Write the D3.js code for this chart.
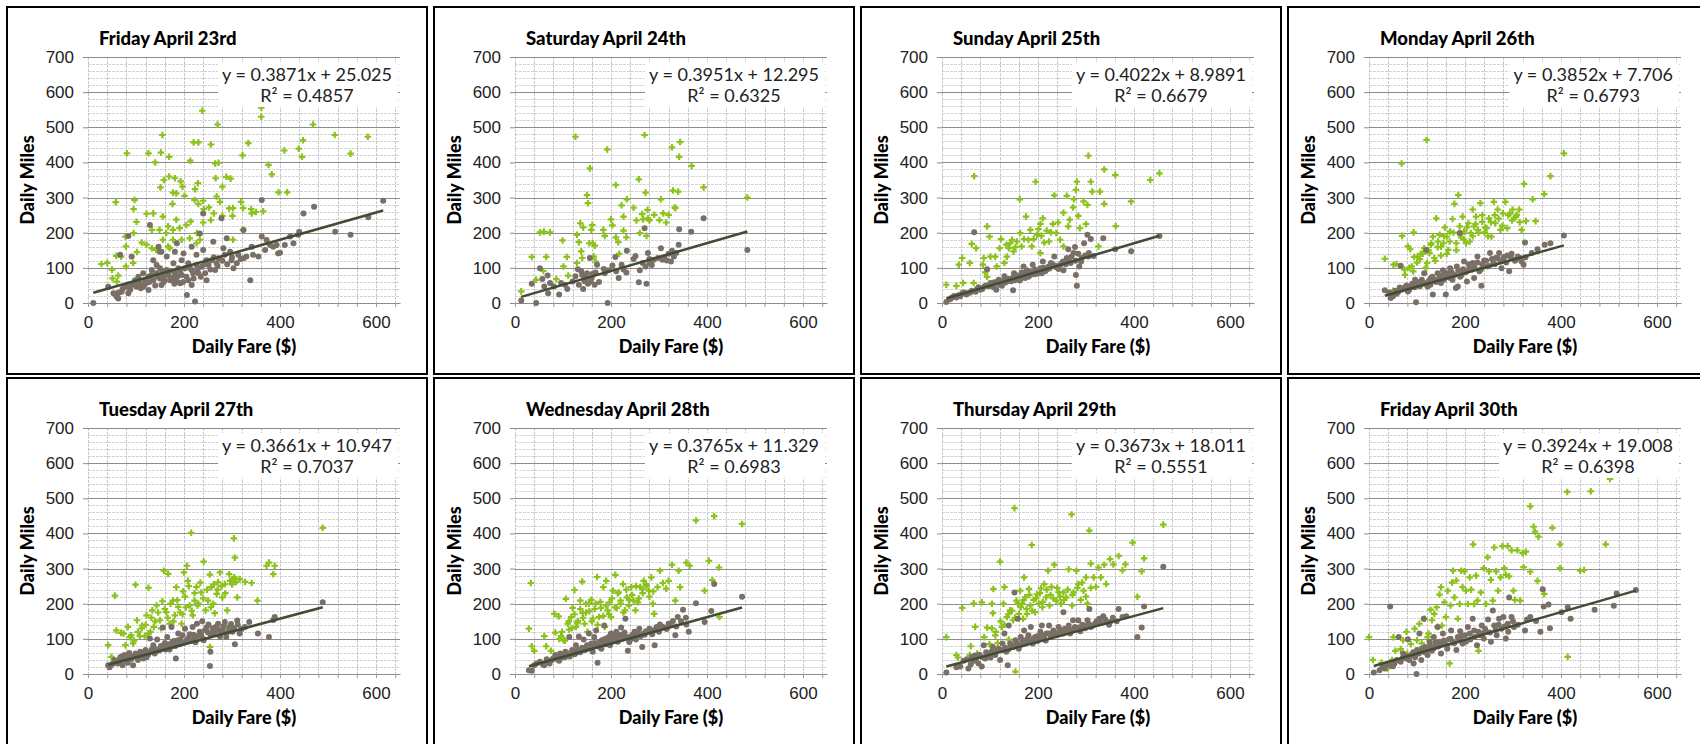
<!DOCTYPE html>
<html>
<head>
<meta charset="utf-8">
<script src="https://cdn.jsdelivr.net/npm/d3@7"></script>
<style>
  body { margin: 0; background: #fff; }
  svg { display: block; font-family: "Century Gothic", Lato, sans-serif; }
</style>
</head>
<body>
<script>
// chart titles and the trendline equations printed on each panel
const titles = ["Friday April 23rd", "Saturday April 24th", "Sunday April 25th", "Monday April 26th",
                "Tuesday April 27th", "Wednesday April 28th", "Thursday April 29th", "Friday April 30th"];
const slopes = [0.3871, 0.3951, 0.4022, 0.3852, 0.3661, 0.3765, 0.3673, 0.3924];
const intercepts = [25.025, 12.295, 8.9891, 7.706, 10.947, 11.329, 18.011, 19.008];
const rSquared = ["0.4857", "0.6325", "0.6679", "0.6793", "0.7037", "0.6983", "0.5551", "0.6398"];
const xTickLabels = [0, 200, 400, 600];
const yTickLabels = [0, 100, 200, 300, 400, 500, 600, 700];

// [daily fare, daily miles]
const fri23Green = [[28,111],[40,114],[58,287],[81,426],[126,426],[152,428],[140,400],[155,478],[169,416],[238,547],[213,405],[220,457],[230,457],[256,451],[265,397],[272,399],[270,508],[361,530],[361,556],[334,455],[322,420],[376,393],[383,366],[397,315],[415,315],[409,434],[439,439],[446,416],[448,463],[469,508],[514,478],[547,425],[583,473],
  [151,329],[158,350],[169,360],[181,355],[193,346],[177,314],[184,312],[176,282],[201,305],[197,331],[223,324],[240,291],[268,303],[288,359],[297,354],[280,331],[266,355],[230,282],[241,267],[262,255],[275,288],[294,269],[302,270],[319,288],[323,270],[340,267],[350,259],[365,261],[301,248],[280,248],[256,236],[240,229],[214,232],[205,222],[191,213],[177,208],[163,199],[149,208],[133,208],[122,254],[136,255],[156,246],[167,218],[184,237],[101,231],[95,199],[79,161],[69,132],[59,134],[50,95],[51,70],[63,78],[79,104],[94,114],[102,145],[112,172],[122,166],[133,156],[142,151],[156,180],[167,161],[177,180],[195,180],[212,184],[226,170],[60,61],[78,189],[95,267],[97,293],[229,341],[222,293],[252,272],[302,180],[323,208],[341,255],[227,199],[233,180],[139,76],[170,156]];
const fri23Grey = [[11,0],[42,46],[58,23],[61,28],[67,137],[84,191],[91,132],[77,46],[98,65],[108,57],[115,85],[129,222],[133,94],[143,108],[147,160],[153,146],[157,75],[164,94],[171,65],[178,113],[185,170],[192,56],[199,141],[206,23],[219,85],[223,4],[226,108],[233,198],[240,255],[247,122],[261,174],[268,113],[278,241],[282,156],[289,184],[299,122],[303,99],[324,127],[324,208],[338,65],[341,160],[362,293],[362,189],[369,151],[386,160],[396,141],[410,165],[421,189],[440,203],[449,255],[471,274],[515,203],[547,194],[584,244],[615,291],
  [53,28],[70,32],[81,46],[91,51],[101,46],[105,75],[119,65],[126,75],[136,65],[143,85],[150,70],[150,99],[160,65],[167,80],[174,65],[181,85],[188,99],[195,80],[202,99],[209,113],[216,94],[230,85],[237,103],[244,85],[251,108],[258,122],[265,94],[272,127],[285,137],[296,146],[310,113],[313,137],[330,132],[344,137],[355,132],[372,179],[379,165],[393,165],[400,143],[428,170],[438,194],[136,122],[150,146],[164,132],[181,146],[195,122],[216,160],[226,137],[240,151],[126,37],[115,46],[63,13],[60,18],[84,28],[153,51],[185,61],[209,65],[216,51],[247,65],
  [65,30],[72,40],[88,38],[95,55],[104,60],[110,42],[120,55],[128,60],[132,80],[140,50],[146,75],[155,90],[158,60],[170,90],[176,72],[180,55],[186,75],[192,90],[198,60],[205,75],[212,100],[220,70],[228,95],[235,75],[242,110],[255,95],[262,130],[270,105],[280,120],[290,110],[300,130],[318,125]];

const sat24Green = [[13,33],[35,131],[44,66],[52,201],[60,203],[65,131],[73,201],[59,91],[86,68],[99,178],[108,131],[111,78],[101,104],[126,473],[129,194],[129,114],[133,173],[136,227],[142,215],[138,147],[140,128],[150,307],[152,284],[156,383],[159,208],[161,222],[155,170],[162,170],[164,132],[168,118],[166,163],[184,208],[187,191],[192,437],[200,238],[203,221],[210,336],[210,187],[215,173],[217,140],[222,278],[226,246],[226,206],[232,187],[233,295],[247,271],[253,235],[258,352],[260,199],[265,253],[267,238],[270,478],[272,314],[276,265],[277,241],[274,191],[280,235],[290,251],[301,236],[304,295],[309,255],[315,229],[320,251],[327,443],[329,320],[333,272],[340,317],[342,416],[344,458],[334,270],[368,390],[393,329],[484,300]];
const sat24Grey = [[13,7],[35,55],[44,0],[52,99],[57,68],[61,47],[68,78],[73,57],[69,28],[81,47],[92,24],[96,57],[104,52],[109,40],[120,61],[126,76],[131,96],[133,52],[138,90],[142,40],[148,71],[152,55],[156,128],[158,61],[162,83],[166,52],[168,87],[171,109],[185,97],[187,85],[193,0],[195,93],[203,107],[209,131],[211,90],[216,71],[222,109],[226,95],[232,87],[233,149],[247,125],[251,134],[258,59],[260,93],[266,114],[270,213],[272,104],[274,55],[277,142],[280,114],[289,123],[298,128],[304,156],[307,123],[311,131],[316,121],[327,149],[331,132],[336,142],[341,166],[342,210],[367,203],[393,241],[484,151],
  [140,80],[145,62],[150,85],[160,72],[175,60],[280,125],[285,108],[320,140],[325,118]];

const sun25Green = [[9,52],[30,49],[35,109],[42,128],[44,57],[58,114],[62,168],[67,361],[71,156],[66,57],[85,109],[87,128],[94,218],[90,87],[94,74],[99,189],[101,132],[111,132],[114,104],[120,156],[123,182],[130,114],[134,166],[135,132],[139,156],[142,170],[146,180],[149,147],[153,159],[156,175],[162,295],[163,199],[166,161],[171,182],[175,246],[180,180],[184,208],[187,161],[191,182],[195,345],[198,194],[201,210],[205,225],[207,191],[210,241],[213,172],[218,206],[223,175],[227,201],[231,225],[234,306],[238,199],[242,229],[246,180],[253,257],[260,305],[263,218],[266,237],[273,272],[275,295],[279,322],[281,345],[284,248],[287,213],[295,289],[300,225],[303,279],[305,419],[310,345],[313,317],[326,161],[329,317],[338,282],[338,380],[361,364],[362,219],[394,289],[434,350],[453,369],[205,142],[253,161]];
const sun25Grey = [[9,3],[17,11],[30,16],[38,19],[42,28],[51,24],[59,30],[67,201],[73,40],[80,38],[88,47],[94,96],[101,57],[109,59],[113,38],[118,66],[125,49],[130,76],[135,61],[142,68],[148,36],[150,85],[156,74],[162,64],[166,87],[170,104],[173,71],[177,93],[184,80],[189,109],[194,95],[199,83],[205,99],[210,118],[215,90],[222,104],[227,114],[234,132],[236,106],[243,97],[250,114],[253,93],[260,128],[263,153],[268,114],[274,142],[277,159],[279,80],[281,49],[286,104],[291,128],[296,170],[303,194],[305,132],[310,182],[316,134],[336,184],[361,153],[394,147],[453,191],
  [20,15],[25,20],[34,22],[46,30],[54,28],[62,35],[70,32],[76,45],[84,40],[92,50],[98,48],[104,55],[108,45],[115,60],[120,52],[126,62],[132,58],[138,68],[144,62],[148,72],[152,65],[158,78],[164,70],[168,80],[174,85],[180,75],[186,88],[192,82],[196,90],[202,92],[208,85],[212,100],[218,95],[224,98],[230,110],[238,102],[246,108],[252,118],[258,110],[264,122],[270,132],[278,120],[284,140],[290,118],[298,135],[306,142]];

const mon26Green = [[33,126],[50,35],[51,109],[57,111],[68,397],[69,191],[74,95],[75,80],[81,161],[86,153],[89,104],[93,201],[94,131],[101,132],[108,140],[115,156],[120,464],[121,114],[126,142],[129,166],[133,189],[136,128],[140,241],[143,159],[147,194],[150,135],[155,170],[158,215],[162,189],[165,151],[169,203],[174,239],[178,282],[182,170],[186,307],[189,218],[192,187],[195,246],[198,203],[202,170],[207,227],[212,199],[216,266],[219,218],[223,246],[227,208],[232,284],[236,231],[241,201],[245,213],[250,241],[255,189],[260,288],[263,227],[268,266],[274,208],[279,255],[284,288],[288,213],[294,255],[299,266],[302,241],[308,251],[313,266],[318,208],[323,339],[327,233],[341,295],[347,233],[365,310],[378,361],[406,426],
  [84,100],[92,90],[100,115],[106,125],[112,140],[118,100],[124,150],[130,170],[138,120],[144,175],[150,160],[156,190],[162,140],[168,175],[176,200],[182,150],[190,195],[198,180],[204,215],[210,175],[216,190],[222,225],[228,200],[236,250],[242,215],[248,190],[254,230],[262,250],[270,240],[278,220],[290,250],[298,235],[306,245],[314,230]];
const mon26Grey = [[33,36],[45,14],[50,19],[57,26],[66,106],[67,38],[75,45],[81,33],[88,47],[96,66],[98,2],[105,52],[114,57],[119,151],[122,47],[129,71],[133,24],[137,66],[143,85],[150,57],[154,93],[160,24],[164,76],[169,99],[174,66],[181,43],[183,104],[189,199],[193,80],[198,118],[204,61],[209,99],[216,114],[219,71],[226,132],[233,95],[234,49],[240,121],[247,104],[252,142],[259,112],[264,128],[271,142],[276,99],[281,131],[288,135],[292,90],[297,140],[306,123],[315,128],[322,109],[325,172],[339,142],[351,153],[366,166],[378,170],[406,192],[115,85],[185,47],
  [42,30],[48,22],[55,35],[60,30],[64,44],[70,40],[78,50],[84,38],[90,55],[95,45],[100,60],[106,48],[110,66],[116,55],[124,62],[128,52],[132,75],[140,60],[146,70],[152,78],[156,66],[162,85],[168,72],[172,88],[178,80],[186,92],[190,75],[196,96],[202,88],[208,110],[214,95],[220,100],[226,115],[230,90],[236,110],[244,120],[250,105],[256,125],[262,110],[268,128],[274,118],[280,125],[286,115],[296,128],[304,120],[310,132],[318,118],[326,130]];

const tue27Green = [[42,82],[49,49],[56,223],[59,124],[69,117],[74,115],[78,82],[83,134],[87,105],[94,87],[99,254],[102,153],[108,108],[113,138],[118,108],[122,167],[126,245],[130,120],[134,181],[137,134],[143,195],[150,153],[155,207],[158,294],[163,176],[167,285],[170,143],[177,209],[181,167],[184,247],[188,191],[195,143],[197,170],[200,289],[202,220],[206,308],[208,265],[212,195],[215,402],[218,167],[222,209],[226,248],[230,200],[236,232],[241,320],[245,181],[250,209],[254,283],[257,247],[261,200],[264,173],[268,228],[271,261],[275,289],[280,218],[285,256],[290,181],[294,284],[302,270],[304,386],[306,331],[311,218],[316,270],[327,262],[341,259],[353,209],[372,308],[377,317],[386,284],[389,308],[489,416],[254,77],[288,134],
  [90,110],[96,95],[104,120],[112,130],[120,140],[126,115],[132,160],[140,150],[146,175],[152,130],[160,185],[166,160],[172,200],[178,150],[186,210],[192,175],[198,235],[204,190],[210,250],[216,180],[222,230],[228,195],[234,260],[240,215],[248,240],[256,190],[262,255],[270,240],[278,250],[286,230],[296,265],[300,255],[305,275],[308,262]];
const tue27Grey = [[42,25],[45,19],[52,30],[59,35],[67,47],[72,25],[76,54],[83,32],[88,49],[94,25],[99,58],[104,40],[109,63],[115,44],[120,68],[125,54],[129,101],[136,82],[139,58],[144,98],[150,68],[156,132],[160,88],[165,105],[170,70],[174,134],[179,94],[183,44],[188,115],[191,85],[197,110],[202,129],[206,96],[212,113],[218,134],[222,105],[227,143],[233,120],[238,150],[241,96],[247,132],[251,141],[254,23],[255,63],[261,120],[266,134],[271,143],[275,107],[280,124],[285,148],[288,105],[295,134],[301,120],[306,85],[311,152],[316,115],[327,134],[336,148],[354,115],[377,105],[386,154],[389,162],[489,204],
  [50,28],[55,40],[62,30],[66,38],[70,50],[78,40],[82,45],[86,60],[90,42],[96,50],[102,48],[106,55],[112,52],[118,58],[122,48],[128,62],[133,70],[140,72],[146,66],[152,80],[158,75],[162,70],[168,85],[172,78],[176,92],[182,80],[186,95],[192,98],[196,88],[204,92],[209,102],[214,96],[220,112],[224,90],[230,108],[236,112],[240,100],[244,125],[250,118],[256,110],[260,130],[264,118],[270,128],[276,118],[282,135],[292,120],[298,142],[304,130],[312,140],[320,128]];

const wed28Green = [[29,129],[33,259],[35,79],[40,66],[61,108],[65,79],[75,66],[84,118],[82,171],[91,164],[96,108],[101,96],[106,214],[110,143],[113,126],[117,162],[120,188],[124,239],[127,134],[131,151],[136,209],[140,263],[141,173],[145,143],[148,200],[151,120],[155,179],[159,211],[162,158],[168,200],[171,276],[175,162],[179,188],[184,247],[187,134],[190,265],[193,181],[197,204],[200,162],[204,237],[209,282],[212,188],[216,232],[220,209],[225,256],[229,181],[233,218],[237,195],[242,247],[247,209],[251,181],[256,204],[261,247],[265,242],[268,265],[273,256],[279,237],[284,275],[287,200],[290,171],[297,247],[302,294],[308,259],[315,243],[320,265],[327,311],[334,209],[341,294],[344,247],[357,317],[364,308],[377,437],[395,237],[404,322],[411,267],[415,449],[425,303],[473,427],[426,162],
  [92,100],[98,120],[104,95],[112,150],[118,130],[124,170],[130,145],[136,185],[142,160],[148,175],[154,200],[160,150],[166,185],[172,140],[178,205],[184,165],[190,195],[196,170],[202,215],[208,190],[214,230],[220,200],[226,175],[232,240],[238,210],[244,225],[252,250],[258,215],[266,230],[274,250],[280,220],[288,235]];
const wed28Grey = [[29,11],[35,9],[40,25],[61,25],[72,30],[77,40],[84,54],[89,41],[94,58],[99,47],[105,63],[110,51],[113,105],[119,68],[124,56],[127,82],[133,107],[138,70],[143,98],[148,72],[154,115],[159,87],[162,63],[165,105],[169,124],[172,32],[176,77],[181,96],[186,138],[190,85],[195,105],[200,115],[205,94],[211,120],[216,101],[221,132],[226,107],[230,157],[235,66],[238,91],[244,110],[249,120],[252,98],[259,129],[265,77],[268,115],[273,122],[280,129],[286,113],[291,82],[295,134],[302,141],[311,132],[320,143],[329,151],[334,110],[339,162],[350,183],[357,141],[362,120],[377,201],[395,148],[409,179],[415,256],[473,220],
  [45,30],[52,35],[58,28],[66,42],[70,35],[80,45],[88,50],[92,38],[98,55],[104,48],[108,60],[114,50],[120,62],[126,58],[130,70],[136,62],[140,75],[146,68],[150,82],[156,72],[160,78],[166,88],[170,80],[176,92],[180,72],[184,88],[188,100],[194,90],[198,82],[204,98],[208,108],[214,92],[218,112],[224,100],[228,118],[234,105],[240,98],[246,112],[250,102],[256,118],[262,108],[270,112],[276,120],[284,118],[290,125],[300,120],[306,135],[316,128],[324,140],[336,135],[346,150],[356,160]];

const thu29Green = [[9,105],[30,54],[33,47],[42,188],[58,54],[60,79],[66,201],[69,134],[73,58],[83,204],[88,105],[94,132],[99,85],[104,200],[106,173],[107,242],[111,110],[116,88],[121,320],[125,134],[128,200],[130,247],[135,162],[139,98],[142,181],[148,153],[151,472],[153,7],[155,209],[160,171],[163,237],[167,200],[169,157],[171,275],[173,218],[177,171],[181,242],[184,195],[187,367],[191,211],[194,176],[198,227],[202,200],[206,244],[209,190],[213,256],[217,218],[221,294],[224,195],[228,248],[234,311],[238,209],[243,232],[248,200],[253,232],[259,218],[264,298],[270,454],[271,195],[274,232],[280,294],[284,256],[289,211],[295,237],[300,275],[303,200],[307,408],[310,314],[316,275],[321,248],[326,303],[331,275],[338,311],[342,256],[350,327],[357,312],[368,336],[376,295],[382,312],[397,374],[407,220],[416,292],[421,329],[461,425],
  [104,130],[112,120],[122,150],[130,140],[138,170],[146,180],[152,160],[158,200],[164,190],[170,210],[176,185],[182,225],[188,180],[196,215],[204,230],[210,205],[218,240],[226,225],[232,215],[240,245],[246,220],[254,210],[262,240],[272,225],[282,245],[292,260],[300,220],[310,245]];
const thu29Grey = [[9,4],[30,19],[38,21],[55,16],[60,28],[67,38],[71,44],[76,30],[83,21],[87,82],[90,44],[95,58],[101,47],[106,77],[111,54],[116,68],[121,40],[126,87],[130,115],[134,63],[137,25],[139,138],[142,87],[148,77],[151,232],[153,96],[158,157],[160,72],[164,105],[169,85],[171,124],[175,96],[180,110],[185,134],[189,87],[194,105],[199,94],[205,120],[208,138],[213,101],[218,115],[223,138],[227,105],[232,124],[238,115],[243,134],[250,120],[253,176],[256,129],[264,138],[267,115],[273,153],[277,134],[284,153],[288,122],[295,138],[303,153],[307,185],[310,134],[319,143],[328,157],[336,164],[342,148],[350,148],[368,185],[384,164],[407,105],[416,132],[421,192],[461,305],
  [45,38],[52,42],[62,48],[68,52],[78,55],[84,48],[92,62],[98,55],[104,65],[110,60],[118,72],[124,68],[132,75],[138,70],[144,82],[150,78],[156,88],[162,82],[168,95],[174,88],[178,100],[184,92],[190,100],[196,95],[200,108],[206,100],[212,110],[216,95],[222,115],[228,108],[234,118],[240,112],[246,125],[252,115],[258,122],[262,130],[270,125],[278,128],[286,132],[292,140],[298,130],[306,142],[314,138],[322,150],[330,145],[340,155],[348,140],[356,160],[364,150],[376,162]];

const fri30Green = [[0,105],[8,40],[26,32],[39,16],[48,40],[51,105],[55,66],[66,71],[71,96],[78,120],[80,58],[87,85],[95,129],[100,96],[105,143],[110,87],[116,157],[122,105],[124,115],[128,183],[131,153],[136,171],[141,190],[143,134],[147,226],[150,247],[152,138],[157,204],[160,162],[164,237],[168,30],[170,195],[173,260],[175,294],[178,218],[182,266],[185,157],[189,199],[192,294],[195,247],[199,292],[202,237],[206,199],[210,275],[213,240],[217,369],[219,199],[223,280],[226,209],[228,66],[233,232],[239,301],[244,199],[247,332],[250,292],[254,268],[258,209],[261,360],[265,292],[269,237],[274,275],[278,364],[282,301],[285,282],[289,364],[292,278],[297,352],[301,237],[304,211],[309,352],[315,209],[320,344],[322,304],[327,348],[336,477],[336,291],[343,419],[346,405],[351,265],[353,391],[365,228],[382,416],[398,369],[398,301],[413,518],[414,49],[440,294],[448,296],[462,520],[493,369],[502,555]];
const fri30Grey = [[10,4],[22,11],[33,16],[44,192],[45,25],[53,30],[62,105],[66,35],[71,58],[78,44],[81,99],[88,54],[93,30],[99,0],[100,68],[105,115],[109,40],[114,157],[117,77],[122,54],[126,92],[131,66],[135,105],[140,79],[143,134],[147,92],[150,58],[154,115],[158,87],[163,72],[167,99],[171,124],[175,89],[182,68],[185,105],[190,122],[195,87],[200,110],[206,134],[211,98],[216,157],[219,124],[225,82],[230,110],[235,138],[239,101],[244,120],[248,155],[254,92],[258,181],[261,138],[266,110],[271,157],[276,129],[280,162],[285,101],[289,143],[292,218],[297,162],[302,134],[325,124],[329,155],[336,162],[348,151],[357,120],[362,241],[364,192],[374,198],[377,130],[401,176],[414,190],[420,157],[470,183],[510,194],[516,229],[556,239],
  [28,20],[38,28],[50,22],[58,40],[70,45],[76,52],[84,40],[92,62],[96,48],[104,58],[110,72],[116,62],[120,70],[128,80],[134,72],[138,90],[144,78],[152,85],[156,95],[162,82],[170,100],[178,88],[188,95],[194,108],[202,92],[210,115],[220,105],[228,120],[236,115],[242,128],[252,118],[264,125],[270,140],[282,135],[290,120],[300,150],[310,140]];

const greenSeries = [fri23Green, sat24Green, sun25Green, mon26Green, tue27Green, wed28Green, thu29Green, fri30Green];
const greySeries = [fri23Grey, sat24Grey, sun25Grey, mon26Grey, tue27Grey, wed28Grey, thu29Grey, fri30Grey];

const green = "#8cc21c", grey = "#7a6f66", trendColor = "#414b35";
const plotW = 312, plotH = 246;

const svg = d3.select("body").append("svg")
    .attr("width", 1700)
    .attr("height", 744);

const x = d3.scaleLinear().domain([0, 650]).range([0, plotW]);
const y = d3.scaleLinear().domain([0, 700]).range([plotH, 0]);

const crossSym = d3.symbol().type(d3.symbolCross).size(24);

titles.forEach((title, i) => {
    const px = 7 + (i % 4) * 427;
    const py = i < 4 ? 7 : 378;
    const panel = svg.append("g").attr("transform", `translate(${px},${py})`);

    panel.append("rect")
        .attr("width", 420).attr("height", 367)
        .attr("fill", "#fff").attr("stroke", "#000").attr("stroke-width", 2);

    const g = panel.append("g").attr("transform", "translate(81,50)");

    // minor gridlines
    g.selectAll(".hmin").data(d3.range(20, 700, 20).filter(v => v % 100))
        .join("line")
        .attr("x1", 0).attr("x2", plotW)
        .attr("y1", d => Math.round(y(d)) + 0.5).attr("y2", d => Math.round(y(d)) + 0.5)
        .attr("stroke", "#d4d4d4").attr("stroke-dasharray", "3,1");
    g.selectAll(".vmin").data(d3.range(0, 641, 40))
        .join("line")
        .attr("x1", d => Math.round(x(d)) + 0.5).attr("x2", d => Math.round(x(d)) + 0.5)
        .attr("y1", 0).attr("y2", plotH)
        .attr("stroke", "#c8c8c8").attr("stroke-dasharray", "3,1");
    // major gridlines
    g.selectAll(".hmaj").data(d3.range(100, 701, 100))
        .join("line")
        .attr("x1", 0).attr("x2", plotW)
        .attr("y1", d => Math.round(y(d)) + 0.5).attr("y2", d => Math.round(y(d)) + 0.5)
        .attr("stroke", "#8c8c8c");

    // axes
    const yAxis = d3.axisLeft(y).tickValues(yTickLabels).tickSize(5).tickPadding(9);
    const yG = g.append("g").call(yAxis);
    yG.select(".domain").remove();
    yG.selectAll(".tick line").attr("stroke", "#8c8c8c");
    yG.selectAll("text").attr("font-size", 17).attr("fill", "#222");

    const xAxis = d3.axisBottom(x).tickValues(d3.range(0, 641, 40))
        .tickFormat(d => xTickLabels.includes(d) ? d : "")
        .tickSize(4).tickSizeOuter(0).tickPadding(9);
    const xG = g.append("g").attr("transform", `translate(0,${plotH})`).call(xAxis);
    xG.select(".domain").attr("stroke", "#8c8c8c");
    xG.selectAll(".tick line").attr("stroke", "#9a9a9a");
    xG.selectAll("text").attr("font-size", 17).attr("fill", "#222");
    svg.selectAll(".tick text").style("font-family", null);

    // points
    g.selectAll(".g").data(greenSeries[i])
        .join("path")
        .attr("d", crossSym)
        .attr("transform", d => `translate(${x(d[0])},${y(d[1])})`)
        .attr("fill", green);
    g.selectAll(".k").data(greySeries[i])
        .join("circle")
        .attr("cx", d => x(d[0])).attr("cy", d => y(d[1]))
        .attr("r", 3)
        .attr("fill", grey);

    // trendline over the grey series
    const [x0, x1] = d3.extent(greySeries[i], d => d[0]);
    const trend = d3.line().x(d => x(d)).y(d => y(slopes[i] * d + intercepts[i]));
    g.append("path")
        .datum([x0, x1])
        .attr("d", trend)
        .attr("stroke", trendColor).attr("stroke-width", 2.5).attr("fill", "none");

    // equation label
    const box = g.append("rect").attr("fill", "#fff");
    const eq1 = g.append("text")
        .attr("font-size", 18).attr("fill", "#222").attr("text-anchor", "middle")
        .text(`y = ${slopes[i]}x + ${intercepts[i]}`);
    const w = eq1.node().getComputedTextLength();
    const cx = plotW - 8 - w / 2;
    eq1.attr("x", cx).attr("y", 24);
    g.append("text")
        .attr("font-size", 18).attr("fill", "#222").attr("text-anchor", "middle")
        .attr("x", cx).attr("y", 45)
        .text(`R² = ${rSquared[i]}`);
    box.attr("x", cx - w / 2 - 4).attr("y", 5)
        .attr("width", plotW - 2 - (cx - w / 2 - 4)).attr("height", 45);

    // titles
    g.append("text")
        .attr("x", 11).attr("y", -12)
        .attr("font-size", 18.5).attr("font-weight", 900)
        .text(title);
    g.append("text")
        .attr("transform", `translate(-54,${plotH / 2}) rotate(-90)`)
        .attr("text-anchor", "middle")
        .attr("font-size", 18).attr("font-weight", 900)
        .text("Daily Miles");
    g.append("text")
        .attr("x", plotW / 2).attr("y", plotH + 50)
        .attr("text-anchor", "middle")
        .attr("font-size", 18).attr("font-weight", 900)
        .text("Daily Fare ($)");
});
</script>
</body>
</html>
